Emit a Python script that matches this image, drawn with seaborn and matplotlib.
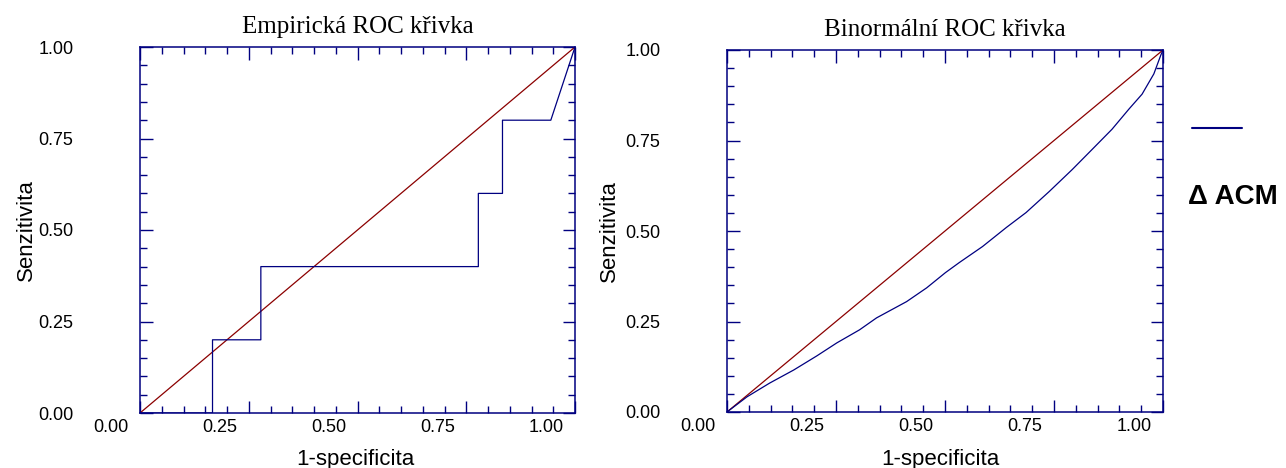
import matplotlib
matplotlib.use("Agg")
import matplotlib.pyplot as plt
from matplotlib.lines import Line2D
from matplotlib.ticker import FixedLocator, MultipleLocator
from matplotlib.transforms import ScaledTranslation
import seaborn as sns

# Empirical ROC curve (step function): 1-specificity vs sensitivity
emp_fpr = [0.0, 0.1667, 0.1667, 0.2778, 0.2778, 0.7778, 0.7778, 0.8333, 0.8333, 0.9444, 1.0]
emp_tpr = [0.0, 0.0, 0.2, 0.2, 0.4, 0.4, 0.6, 0.6, 0.8, 0.8, 1.0]

# Binormal ROC curve
bin_fpr = [0.0, 0.046, 0.098, 0.153, 0.206, 0.252, 0.304, 0.343, 0.412, 0.458, 0.501,
           0.533, 0.586, 0.641, 0.686, 0.739, 0.792, 0.838, 0.883, 0.922, 0.952,
           0.979, 0.995, 1.0]
bin_tpr = [0.0, 0.042, 0.080, 0.116, 0.155, 0.191, 0.227, 0.260, 0.305, 0.343, 0.385,
           0.413, 0.457, 0.510, 0.551, 0.609, 0.670, 0.726, 0.781, 0.837, 0.878,
           0.934, 0.986, 1.0]

# Chance diagonal
diag = [0.0, 1.0]

tick_values = [0.0, 0.25, 0.50, 0.75, 1.0]
tick_labels = ["0.00", "0.25", "0.50", "0.75", "1.00"]

titles = ["Empirická ROC křivka", "Binormální ROC křivka"]
x_title = "1-specificita"
y_title = "Senzitivita"
legend_label = "Δ ACM"

sns.set_theme(style="white")
plt.rcParams["font.family"] = ["Liberation Sans", "DejaVu Sans"]

NAVY = "#000080"
DARKRED = "#8b0000"
W, H = 1286, 468

fig = plt.figure(figsize=(W / 100, H / 100), dpi=100)
fig.patch.set_facecolor("white")
ax_l = fig.add_axes([140 / W, 55 / H, 435 / W, 366 / H])
ax_r = fig.add_axes([727 / W, 56 / H, 436 / W, 362 / H])

# x tick labels sit a little left of their ticks
label_shift = ScaledTranslation(-0.29, 0, fig.dpi_scale_trans)


def style_axes(ax, title, ylab_x, xlab_x, xlab_y):
    ax.set_facecolor("white")
    ax.set_xlim(0, 1)
    ax.set_ylim(0, 1)
    for s in ax.spines.values():
        s.set_visible(True)
        s.set_color(NAVY)
        s.set_linewidth(1.1)
    ax.xaxis.set_major_locator(FixedLocator(tick_values))
    ax.yaxis.set_major_locator(FixedLocator(tick_values))
    ax.xaxis.set_minor_locator(MultipleLocator(0.05))
    ax.yaxis.set_minor_locator(MultipleLocator(0.05))
    ax.set_xticklabels(tick_labels)
    ax.set_yticklabels(tick_labels)
    ax.tick_params(which="both", direction="in", top=True, right=True,
                   bottom=True, left=True, color=NAVY, width=1.0,
                   labelsize=13, labelcolor="black")
    ax.tick_params(which="major", length=9)
    ax.tick_params(which="minor", length=5)
    ax.tick_params(axis="y", which="major", pad=48)
    ax.tick_params(axis="x", which="major", pad=4.5)
    for t in ax.xaxis.get_major_ticks():
        t.label1.set_transform(t.label1.get_transform() + label_shift)
    ax.grid(False)

    ax.set_title(title, fontfamily=["Liberation Serif", "DejaVu Serif"],
                 fontsize=18, pad=10, color="black")
    ax.set_xlabel(x_title, fontsize=16, color="black")
    ax.xaxis.label.set_va("baseline")
    ax.xaxis.set_label_coords(xlab_x, xlab_y)
    ax.set_ylabel(y_title, fontsize=16, color="black")
    ax.yaxis.label.set_va("baseline")
    ax.yaxis.set_label_coords(ylab_x, 0.5)


# Left: empirical curve
sns.lineplot(x=diag, y=diag, ax=ax_l, color=DARKRED, linewidth=0.9,
             sort=False, estimator=None)
sns.lineplot(x=emp_fpr, y=emp_tpr, ax=ax_l, color=NAVY, linewidth=0.9,
             sort=False, estimator=None)
style_axes(ax_l, titles[0], -0.248, 0.494, -0.142)

# Right: binormal curve
sns.lineplot(x=diag, y=diag, ax=ax_r, color=DARKRED, linewidth=0.9,
             sort=False, estimator=None)
sns.lineplot(x=bin_fpr, y=bin_tpr, ax=ax_r, color=NAVY, linewidth=0.9,
             sort=False, estimator=None)
style_axes(ax_r, titles[1], -0.257, 0.489, -0.146)

# Legend key at the right margin
fig.add_artist(Line2D([1192 / W, 1242 / W], [1 - 128 / H, 1 - 128 / H],
                      transform=fig.transFigure, color=NAVY, linewidth=1.5))
fig.text(1188 / W, 1 - 197 / H, legend_label, ha="left", va="center",
         fontsize=20, fontweight="bold", color="black")

fig.savefig("out.png", dpi=100, facecolor="white")
